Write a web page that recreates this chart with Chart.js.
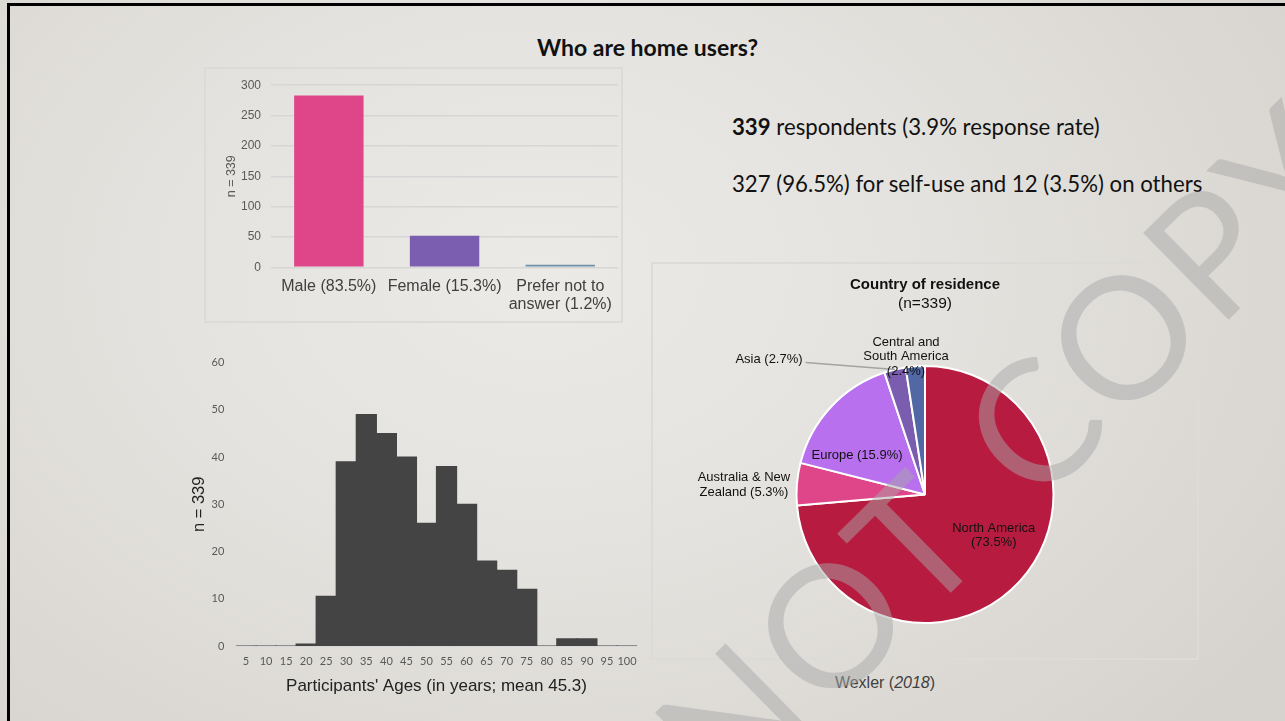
<!DOCTYPE html>
<html>
<head>
<meta charset="utf-8">
<script src="https://cdn.jsdelivr.net/npm/chart.js@4.4.1/dist/chart.umd.min.js"></script>
<style>
  html, body { margin: 0; padding: 0; }
  body {
    width: 1285px; height: 721px; overflow: hidden; position: relative;
    background: radial-gradient(ellipse 900px 650px at 42% 38%, #ebeae7 0%, #e4e2de 45%, #d6d3ce 100%);
    font-family: "Liberation Sans", Arial, sans-serif;
  }
  .frame { position: absolute; left: 7px; top: 3px; width: 1278px; height: 718px; box-sizing: border-box;
           border-top: 3px solid #000; border-left: 3px solid #000; pointer-events: none; z-index: 20; }
  .abs { position: absolute; }
  .box { position: absolute; box-sizing: border-box; border: 2px solid #dcdbd8; }
  .title { left: 0; width: 1295px; top: 33px; text-align: center; font-family: Lato, "Open Sans", sans-serif;
           font-weight: 700; font-size: 23px; line-height: 28px; color: #111; }
  .bullet { left: 732px; font-family: Lato, "Open Sans", sans-serif; font-size: 22.2px; line-height: 26px; color: #111; white-space: nowrap; }
  .wm-anchor { position: absolute; left: 884px; top: 566px; width: 0; height: 0; z-index: 10; pointer-events: none; }
  .wm { position: absolute; left: 0; top: 0; transform: translate(-50%, -50%) rotate(-44.5deg);
        font-family: Lato, sans-serif; font-weight: 400; font-size: 170px; line-height: 170px;
        letter-spacing: 4px; word-spacing: 14px;
        color: rgba(167,167,167,0.49); white-space: nowrap; }
</style>
</head>
<body>
<div class="abs title">Who are home users?</div>
<div class="abs bullet" style="top:114px;"><b>339</b> respondents (3.9% response rate)</div>
<div class="abs bullet" style="top:171px;">327 (96.5%) for self-use and 12 (3.5%) on others</div>

<div class="box" style="left:204px; top:67px; width:419px; height:256px;"></div>
<div class="abs" style="left:205px; top:68px; width:417px; height:254px;"><canvas id="gender"></canvas></div>

<div class="abs" style="left:190px; top:340px; width:460px; height:360px;"><canvas id="ages"></canvas></div>

<div class="box" style="left:651px; top:262px; width:548px; height:398px;"></div>
<div class="abs" style="left:652px; top:263px; width:546px; height:396px;"><canvas id="region"></canvas></div>
<div class="abs" style="left:652px; top:274px; width:546px; text-align:center; font-weight:700; font-size:15px; line-height:19px; color:#111;">Country of residence</div>
<div class="abs" style="left:652px; top:293px; width:546px; text-align:center; font-size:15.5px; line-height:19px; color:#111;">(n=339)</div>
<div class="abs" style="left:652px; top:673px; width:466px; text-align:center; font-size:16px; line-height:20px; color:#404040;">Wexler (<i>2018</i>)</div>

<div class="wm-anchor"><div class="wm">DO NOT COPY</div></div>
<div class="frame"></div>

<script>
// ---------- data ----------
const genderCategories = [['Male (83.5%)'], ['Female (15.3%)'], ['Prefer not to', 'answer (1.2%)']];
const genderCounts = [283, 52, 4];
const genderColors = ['#DF468A', '#7B5EB0', '#6F90A8'];

const ageTicks = ['5','10','15','20','25','30','35','40','45','50','55','60','65','70','75','80','85','90','95','100'];
const ageCounts = [0, 0, 0, 0.4, 10.5, 39, 49, 45, 40, 26, 38, 30, 18, 16, 12, 0, 1.5, 1.5, 0, 0];

const regionCategories = ['North America', 'Australia & New Zealand', 'Europe', 'Asia', 'Central and South America'];
const regionPercents = [73.5, 5.3, 15.9, 2.7, 2.4];
const regionColors = ['#B71C40', '#DF468A', '#B870EE', '#7A5DAF', '#5168A5'];
const regionLabelLines = [
  ['North America', '(73.5%)'],
  ['Australia & New', 'Zealand (5.3%)'],
  ['Europe (15.9%)'],
  ['Asia (2.7%)'],
  ['Central and', 'South America', '(2.4%)']
];
// label placement relative to the pie centre, in units of the pie radius
const regionLabelPlacement = [
  { fx: 0.535, fy: 0.319 },
  { fx: -1.409, fy: -0.076 },
  { fx: -0.529, fy: -0.302 },
  { fx: -1.214, fy: -1.051, leader: true },
  { fx: -0.148, fy: -1.074 }
];

const SANS = '"Liberation Sans", Arial, sans-serif';
Chart.defaults.font.family = SANS;
Chart.defaults.animation = false;
Chart.defaults.devicePixelRatio = 1;
Chart.defaults.responsive = true;
Chart.defaults.maintainAspectRatio = false;
Chart.defaults.plugins.legend.display = false;
Chart.defaults.plugins.tooltip.enabled = false;

// ---------- gender bar chart ----------
new Chart(document.getElementById('gender'), {
  type: 'bar',
  data: {
    labels: genderCategories,
    datasets: [{ data: genderCounts, backgroundColor: genderColors, borderWidth: 0,
                 categoryPercentage: 1, barPercentage: 0.6 }]
  },
  options: {
    layout: { padding: { left: 0, right: 1, top: 15.3, bottom: 0 } },
    scales: {
      x: {
        grid: { display: false, drawTicks: false },
        border: { display: false },
        ticks: { color: '#404040', font: { size: 16, lineHeight: 1.15 }, padding: 10, maxRotation: 0, autoSkip: false },
        afterFit(s) { s.height = 54.7; }
      },
      y: {
        min: 0, max: 300,
        ticks: { stepSize: 50, color: '#595959', font: { size: 12 }, padding: 10 },
        grid: { color: '#d6d6d6', lineWidth: 1.5, drawTicks: false },
        border: { display: false },
        title: { display: true, text: 'n = 339', color: '#595959', font: { size: 12.5 }, padding: { top: 19, bottom: 0 } },
        afterFit(s) { s.width = 66; }
      }
    }
  }
});

// ---------- age histogram ----------
new Chart(document.getElementById('ages'), {
  type: 'bar',
  data: {
    labels: ageTicks,
    datasets: [{ data: ageCounts, backgroundColor: '#444444', borderWidth: 0, inflateAmount: 0.6,
                 categoryPercentage: 1, barPercentage: 1 }]
  },
  options: {
    layout: { padding: { left: 0, right: 13, top: 22.7, bottom: 0 } },
    scales: {
      x: {
        grid: { display: false, drawTicks: false },
        border: { display: true, color: '#d8d8d8', width: 2 },
        ticks: { color: '#595959', font: { family: 'Lato, sans-serif', size: 11 }, padding: 9, maxRotation: 0, autoSkip: false },
        title: { display: true, text: "Participants' Ages (in years; mean 45.3)", color: '#222', font: { size: 17 }, padding: { top: 0, bottom: 3 } },
        afterFit(s) { s.height = 54; }
      },
      y: {
        min: 0, max: 60,
        ticks: { stepSize: 10, color: '#595959', font: { family: 'Lato, sans-serif', size: 11 }, padding: 11.7 },
        grid: { display: false, drawTicks: false },
        border: { display: false },
        title: { display: true, text: 'n = 339', color: '#222', font: { size: 16.5 }, padding: { top: 0, bottom: 0 } },
        afterFit(s) { s.width = 46; }
      }
    }
  }
});

// ---------- region pie ----------
const pieLabels = {
  id: 'pieLabels',
  afterDatasetsDraw(chart) {
    const ctx = chart.ctx;
    const meta = chart.getDatasetMeta(0);
    ctx.save();
    ctx.font = '13px ' + SANS;
    ctx.fillStyle = '#111';
    ctx.textAlign = 'center';
    ctx.textBaseline = 'middle';
    const lh = 14.5;
    meta.data.forEach((arc, i) => {
      const p = regionLabelPlacement[i];
      const r = arc.outerRadius;
      const cx = arc.x + p.fx * r;
      const cy = arc.y + p.fy * r;
      const lines = regionLabelLines[i];
      if (p.leader) {
        const w = Math.max(...lines.map(t => ctx.measureText(t).width));
        const mid = (arc.startAngle + arc.endAngle) / 2;
        ctx.strokeStyle = '#a3a3a3';
        ctx.lineWidth = 1.5;
        ctx.beginPath();
        ctx.moveTo(cx + w / 2 + 3, cy + 3);
        ctx.lineTo(arc.x + Math.cos(mid) * r, arc.y + Math.sin(mid) * r);
        ctx.stroke();
      }
      lines.forEach((t, k) => {
        ctx.fillText(t, cx, cy + (k - (lines.length - 1) / 2) * lh);
      });
    });
    ctx.restore();
  }
};

new Chart(document.getElementById('region'), {
  type: 'pie',
  data: {
    labels: regionCategories,
    datasets: [{ data: regionPercents, backgroundColor: regionColors, borderColor: '#ffffff', borderWidth: 2 }]
  },
  options: {
    layout: { padding: { left: 143.5, right: 143.5, top: 102, bottom: 35 } }
  },
  plugins: [pieLabels]
});
</script>
</body>
</html>
